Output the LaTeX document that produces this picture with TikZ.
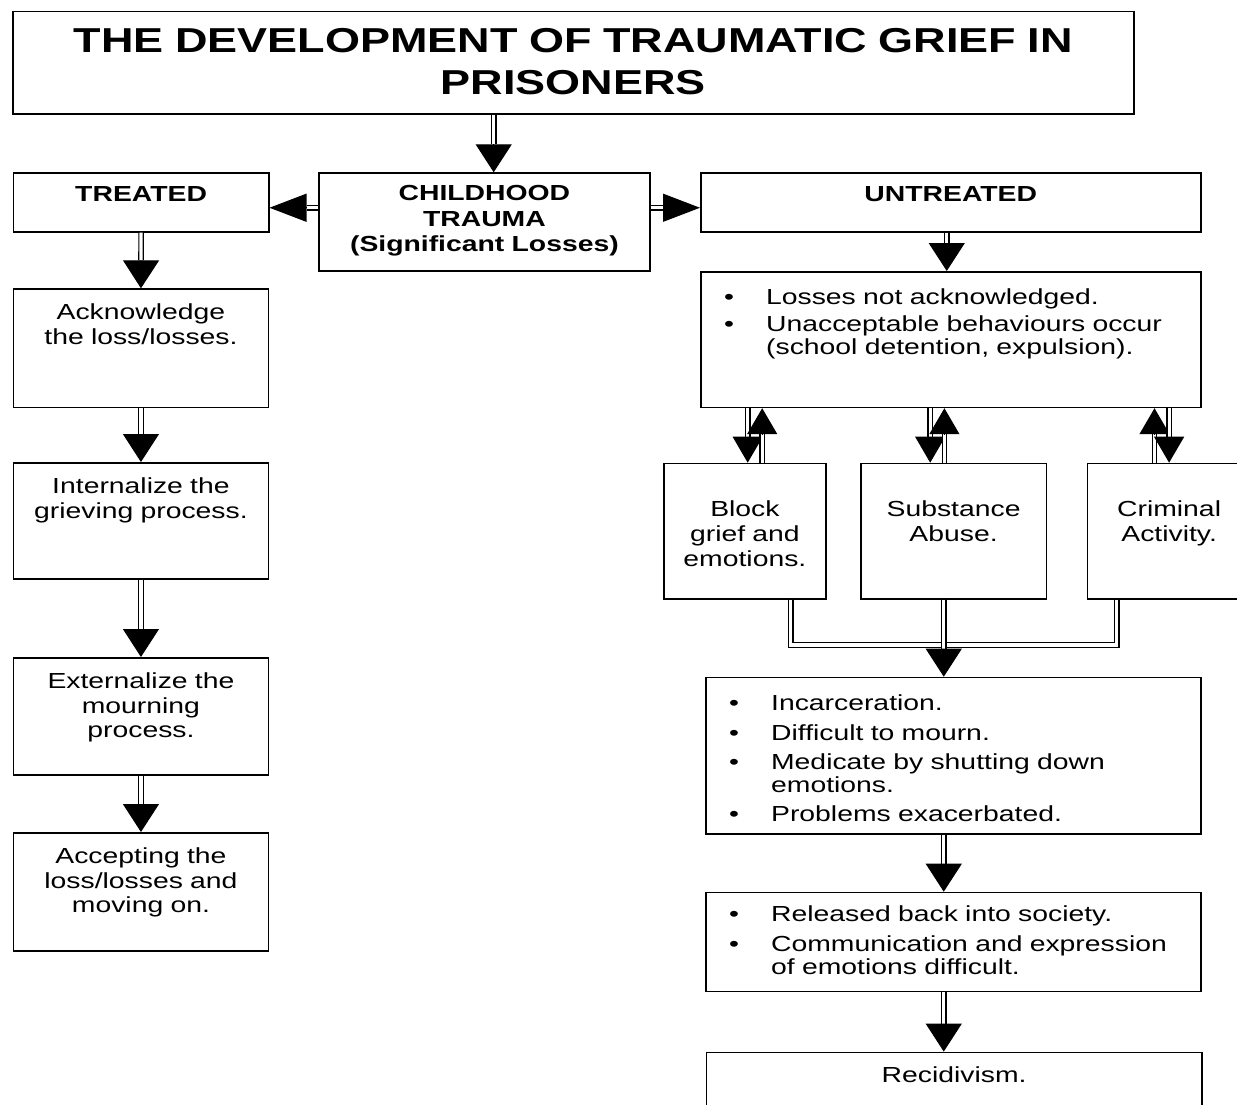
\documentclass[tikz,border=0pt]{standalone}
\usepackage{fontspec}
\setmainfont{Liberation Sans}[FakeStretch=1.3]
\usetikzlibrary{arrows.meta,calc}

\newcommand{\bl}{\hspace*{11.7pt}\makebox[21pt][l]{\textbullet}}
\newcommand{\cont}{\hspace*{32.7pt}}
% double shaft, then a solid head of length #1
\newcommand{\dblarrow}[4][14pt]{%
  \draw[link] (#3) -- ($(#4)!#1!(#3)$);
  \draw[#2] ($(#4)!#1!(#3)$) -- (#4);}

\tikzset{
  box/.style={draw, line width=0.75pt, inner sep=0pt, anchor=north west,
    align=center, font=\fontsize{10.9}{12.35}\selectfont},
  listbox/.style={box, align=left},
  hdbox/.style={box, font=\fontsize{10.9}{12.65}\selectfont\bfseries},
  link/.style={double, double distance=1.6pt, line width=0.6pt},
  vtip/.style={line width=0.6pt, -{Triangle[width=18pt,length=14pt]}},
  htip/.style={line width=0.6pt, -{Triangle[width=14pt,length=18.5pt]}},
  stip/.style={line width=0.6pt, -{Triangle[width=15pt,length=13pt]}},
}

\begin{document}
\begin{tikzpicture}[x=0.5pt, y=-0.5pt]
\useasboundingbox (0,0) rectangle (1237,1104);

% title
\node[box, text width=560.5pt, text height=20.65pt, text depth=30.5pt,
  font=\fontsize{17.3}{21}\selectfont\bfseries] (title) at (12,10.7)
  {THE DEVELOPMENT OF TRAUMATIC GRIEF IN\\PRISONERS};

% top row
\node[hdbox, text width=165.35pt, text height=13.85pt, text depth=35pt] (childhood) at (318.3,172.3)
  {CHILDHOOD\\TRAUMA\\(Significant Losses)};
\node[hdbox, text width=127.65pt, text height=14.5pt, text depth=15pt] (treated) at (12.7,172) {TREATED};
\node[hdbox, text width=250pt, text height=14.5pt, text depth=15pt] (untreated) at (700,172) {UNTREATED};

% treated column
\node[box, text width=127.5pt, text height=15.35pt, text depth=43.85pt] (ack) at (12.7,288.3)
  {Acknowledge\\the loss/losses.};
\node[box, text width=127.5pt, text height=15.35pt, text depth=42.65pt] (internal) at (12.7,462)
  {Internalize the\\grieving process.};
\node[box, text width=127.5pt, text height=15.35pt, text depth=43.15pt] (external) at (12.7,657)
  {Externalize the\\mourning\\process.};
\node[box, text width=127.5pt, text height=15.35pt, text depth=43.65pt] (accept) at (12.7,832)
  {Accepting the\\loss/losses and\\moving on.};

% untreated column
\node[listbox, text width=250pt, text height=16.15pt, text depth=51.7pt,
  font=\fontsize{10.9}{11.5}\selectfont] (losses) at (700,271)
  {\bl Losses not acknowledged.\\[2pt]
   \bl Unacceptable behaviours occur\\
   \cont(school detention, expulsion).};

\node[box, text width=80.85pt, text height=26.65pt, text depth=41.15pt,
  font=\fontsize{10.9}{12.4}\selectfont] (block) at (663.3,462.7) {Block\\grief and\\emotions.};
\node[box, text width=92.85pt, text height=26.65pt, text depth=41.15pt,
  font=\fontsize{10.9}{12.4}\selectfont] (substance) at (860,462.7) {Substance\\Abuse.};
\node[box, text width=81.65pt, text height=26.65pt, text depth=41.15pt,
  font=\fontsize{10.9}{12.4}\selectfont] (criminal) at (1086.7,462.7) {Criminal\\Activity.};

\node[listbox, text width=247.5pt, text height=16.65pt, text depth=61.5pt,
  font=\fontsize{10.9}{11.35}\selectfont] (incarc) at (705,676.7)
  {\bl Incarceration.\\[3.4pt]
   \bl Difficult to mourn.\\[3.4pt]
   \bl Medicate by shutting down\\
   \cont emotions.\\[3.4pt]
   \bl Problems exacerbated.};
\node[listbox, text width=247.5pt, text height=14.5pt, text depth=35pt,
  font=\fontsize{10.9}{11.5}\selectfont] (released) at (705,891.7)
  {\bl Released back into society.\\[3.5pt]
   \bl Communication and expression\\
   \cont of emotions difficult.};
\node[box, text width=247.65pt, text height=15.2pt, text depth=20pt] (recid) at (705.7,1051.6) {Recidivism.};

% arrows
\coordinate (tc) at ([xshift=4.65pt]childhood.north);
\dblarrow{vtip}{title.south -| tc}{tc};
\coordinate (tl) at ([yshift=-2.75pt]treated.east);
\dblarrow[18.5pt]{htip}{childhood.west |- tl}{tl};
\coordinate (ur) at ([yshift=-2.75pt]untreated.west);
\dblarrow[18.5pt]{htip}{childhood.east |- ur}{ur};

\dblarrow{vtip}{treated.south}{ack.north};
\dblarrow{vtip}{ack.south}{internal.north};
\dblarrow{vtip}{internal.south}{external.north};
\dblarrow{vtip}{external.south}{accept.north};

\coordinate (ut) at ([xshift=-2pt]losses.north);
\dblarrow{vtip}{untreated.south -| ut}{ut};

\coordinate (bd) at ([xshift=1.4pt]block.north);
\coordinate (bu) at ([xshift=8.65pt]block.north);
\coordinate (sd) at ([xshift=-11.7pt]substance.north);
\coordinate (su) at ([xshift=-4.6pt]substance.north);
\coordinate (cu) at ([xshift=-7.3pt]criminal.north);
\coordinate (cd) at (criminal.north);
\dblarrow[13pt]{stip}{losses.south -| bd}{bd};
\dblarrow[13pt]{stip}{bu}{losses.south -| bu};
\dblarrow[13pt]{stip}{losses.south -| sd}{sd};
\dblarrow[13pt]{stip}{su}{losses.south -| su};
\dblarrow[13pt]{stip}{cu}{losses.south -| cu};
\dblarrow[13pt]{stip}{losses.south -| cd}{cd};

% merge into incarceration
\coordinate (mj) at (943,645);
\draw[link] ([xshift=22.9pt]block.south) |- (mj) -| ([xshift=-26.2pt]criminal.south);
\coordinate (ic) at ([xshift=-4.75pt]incarc.north);
\dblarrow{vtip}{substance.south -| ic}{ic};
\dblarrow{vtip}{incarc.south -| ic}{released.north -| ic};
\dblarrow{vtip}{released.south -| ic}{recid.north -| ic};

\end{tikzpicture}
\end{document}
